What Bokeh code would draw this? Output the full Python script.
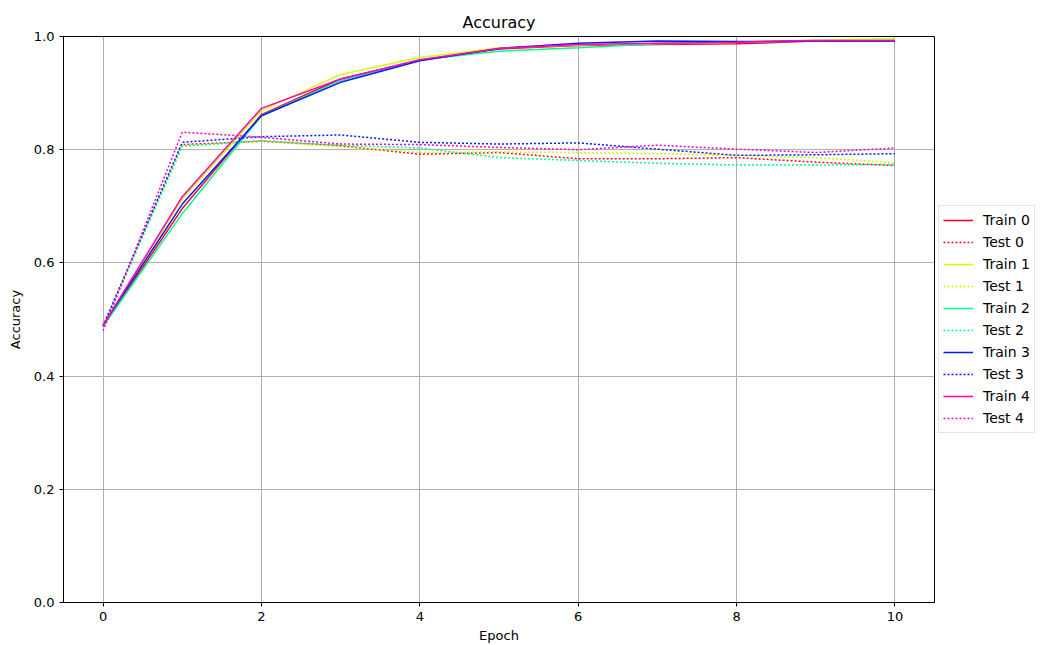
from bokeh.plotting import figure
from bokeh.models import Range1d, FixedTicker, NumeralTickFormatter, Legend, LegendItem
from bokeh.embed import file_html
from bokeh.resources import INLINE

epochs = [0, 1, 2, 3, 4, 5, 6, 7, 8, 9, 10]

train0 = [0.488, 0.696, 0.862, 0.925, 0.958, 0.978, 0.984, 0.986, 0.987, 0.992, 0.992]
train1 = [0.488, 0.713, 0.869, 0.933, 0.963, 0.980, 0.985, 0.988, 0.990, 0.994, 0.996]
train2 = [0.488, 0.687, 0.860, 0.922, 0.959, 0.974, 0.980, 0.987, 0.990, 0.992, 0.993]
train3 = [0.490, 0.704, 0.860, 0.919, 0.957, 0.979, 0.988, 0.992, 0.991, 0.992, 0.992]
train4 = [0.490, 0.717, 0.873, 0.925, 0.959, 0.979, 0.986, 0.988, 0.990, 0.993, 0.993]

test0 = [0.487, 0.809, 0.815, 0.807, 0.792, 0.795, 0.784, 0.784, 0.786, 0.778, 0.772]
test1 = [0.487, 0.807, 0.815, 0.805, 0.795, 0.796, 0.795, 0.793, 0.790, 0.786, 0.777]
test2 = [0.487, 0.806, 0.816, 0.808, 0.803, 0.786, 0.781, 0.776, 0.773, 0.773, 0.774]
test3 = [0.489, 0.813, 0.823, 0.826, 0.813, 0.810, 0.812, 0.801, 0.790, 0.791, 0.793]
test4 = [0.480, 0.831, 0.822, 0.810, 0.809, 0.804, 0.800, 0.808, 0.801, 0.795, 0.803]

trains = [train0, train1, train2, train3, train4]
tests = [test0, test1, test2, test3, test4]
train_labels = ["Train 0", "Train 1", "Train 2", "Train 3", "Train 4"]
test_labels = ["Test 0", "Test 1", "Test 2", "Test 3", "Test 4"]
colors = ["#ff0029", "#cfff00", "#00ff89", "#001cff", "#ff00bf"]

x_ticks = [0, 2, 4, 6, 8, 10]
y_ticks = [0.0, 0.2, 0.4, 0.6, 0.8, 1.0]

FONT = "DejaVu Sans"

p = figure(frame_width=871, frame_height=566, output_backend="svg", toolbar_location=None,
           x_range=Range1d(-0.5, 10.5), y_range=Range1d(0, 1),
           min_border_left=63, min_border_right=0, min_border_top=36, min_border_bottom=43)

p.title.text = "Accuracy"
p.title.align = "center"
p.title.text_font = FONT
p.title.text_font_size = "16px"
p.title.text_font_style = "normal"
p.title.text_color = "#000000"
p.title.offset = 0
p.title.standoff = 10

p.outline_line_color = "#000000"
p.outline_line_width = 1

for ax in (p.xaxis[0], p.yaxis[0]):
    ax.axis_label_text_font = FONT
    ax.axis_label_text_font_size = "13px"
    ax.axis_label_text_font_style = "normal"
    ax.axis_label_text_color = "#000000"
    ax.major_label_text_font = FONT
    ax.major_label_text_font_size = "13px"
    ax.major_label_text_color = "#000000"
    ax.major_tick_in = 0
    ax.major_tick_out = 4
    ax.minor_tick_in = 0
    ax.minor_tick_out = 0
    ax.axis_line_color = "#000000"
    ax.major_tick_line_color = "#000000"
    ax.axis_label_standoff = 4

p.yaxis.axis_label_standoff = 8
p.xaxis.axis_label = "Epoch"
p.yaxis.axis_label = "Accuracy"
p.xaxis.ticker = FixedTicker(ticks=x_ticks)
p.yaxis.ticker = FixedTicker(ticks=y_ticks)
p.yaxis.formatter = NumeralTickFormatter(format="0.0")

p.grid.grid_line_color = "#b0b0b0"
p.grid.grid_line_width = 1

items = []
for i in range(5):
    r1 = p.line(epochs, trains[i], line_color=colors[i], line_width=1.5)
    r2 = p.line(epochs, tests[i], line_color=colors[i], line_width=1.5, line_dash="2 2")
    items.append(LegendItem(label=train_labels[i], renderers=[r1]))
    items.append(LegendItem(label=test_labels[i], renderers=[r2]))

legend = Legend(items=items, location="center_left")
legend.label_text_font = FONT
legend.label_text_font_size = "14px"
legend.label_text_color = "#000000"
legend.glyph_width = 30
legend.glyph_height = 20
legend.label_height = 20
legend.spacing = 2
legend.padding = 4
legend.margin = 4
legend.label_standoff = 10
legend.border_line_color = "#cccccc"
legend.border_line_width = 1
legend.background_fill_alpha = 0.8
p.add_layout(legend, "right")

open("out.html", "w").write(file_html(p, INLINE))
